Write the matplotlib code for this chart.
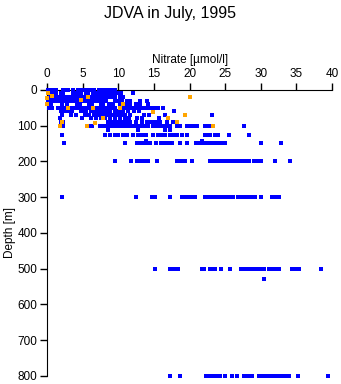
import matplotlib
matplotlib.use("Agg")
import matplotlib.pyplot as plt

plt.rcParams['font.family'] = ['Liberation Sans', 'DejaVu Sans']

# nitrate [umol/l] by sampling depth [m]
no3_0m = [0.1, 0.3, 0.5, 0.7, 0.9, 1.1, 1.3, 2.3, 2.6, 2.9, 3.7, 4.3, 4.6, 4.9,
          5.4, 5.7, 6.0, 6.3, 6.6, 7.3, 7.6, 7.9, 8.3, 8.6, 8.9, 9.2, 9.5]
no3_10m = [0.1, 0.4, 0.7, 1.0, 1.3, 1.9, 2.2, 3.6, 3.9, 4.5, 4.8, 5.4, 5.8, 6.4,
           6.7, 7.0, 7.3, 7.6, 7.9, 8.2, 8.5, 8.8, 9.1, 9.4, 9.7, 10.1, 10.4, 12.0]
no3_20m = [0.4, 0.7, 1.0, 1.3, 1.6, 1.9, 2.2, 2.6, 3.0, 3.4, 3.8, 4.1, 4.4, 4.8,
           5.2, 5.5, 6.2, 6.5, 6.9, 7.2, 7.6, 8.0, 8.3, 8.6, 9.0, 9.3, 9.6, 10.3, 10.6]
no3_30m = [0.2, 0.5, 0.8, 1.1, 1.4, 1.7, 2.0, 2.3, 2.6, 2.9, 3.2, 3.5, 3.8, 4.1,
           4.4, 4.7, 5.0, 5.3, 5.6, 5.9, 6.2, 6.5, 6.8, 7.1, 7.4, 7.7, 8.0, 8.3,
           9.6, 9.9, 10.2, 10.5, 11.2, 11.6, 13.1, 14.0]
no3_40m = [0.1, 0.6, 2.1, 2.8, 4.2, 4.6, 5.9, 6.3, 7.5, 7.9, 8.7, 9.3, 10.2,
           11.1, 11.6, 12.5, 13.1, 14.2]
no3_50m = [0.3, 0.7, 1.5, 1.9, 2.3, 2.7, 3.3, 3.7, 4.1, 4.5, 4.9, 5.3, 5.7, 6.1,
           6.8, 7.2, 7.6, 8.0, 8.4, 8.8, 9.2, 9.6, 10.8, 11.2, 11.6, 12.0, 12.5,
           13.0, 13.4, 13.8, 14.3, 14.7, 15.1, 15.5, 16.2]
no3_60m = [2.0, 2.3, 2.7, 3.1, 3.5, 4.7, 5.0, 5.4, 6.1, 6.4, 6.8, 7.2, 7.5, 7.9,
           8.4, 8.8, 9.5, 10.1, 10.6, 11.4, 12.2, 12.9, 14.8, 17.8]
no3_70m = [2.1, 3.4, 4.1, 5.3, 5.9, 6.6, 7.0, 7.4, 7.8, 8.3, 8.7, 9.2, 9.8, 10.4,
           11.0, 11.7, 13.6, 14.3, 16.5, 23.1]
no3_80m = [1.8, 4.9, 6.2, 6.9, 7.6, 8.1, 8.9, 9.6, 10.2, 10.9, 11.5, 12.6, 13.3,
           15.7, 17.0]
no3_90m = [2.0, 2.3, 8.6, 9.0, 9.4, 10.0, 10.4, 10.8, 11.2, 11.6, 12.5, 13.3,
           14.0, 14.4, 14.7, 15.1, 15.5, 15.9, 16.8, 17.7]
no3_100m = [2.0, 2.3, 6.0, 6.3, 7.4, 7.7, 8.1, 8.6, 9.1, 9.5, 9.9, 10.2, 10.7,
            11.1, 11.5, 11.9, 12.1, 12.6, 13.1, 13.3, 13.8, 14.2, 14.9, 15.3,
            15.7, 16.1, 16.6, 17.0, 17.3, 18.2, 18.7, 19.6, 20.0, 20.5, 21.0,
            22.2, 22.6, 22.9, 27.7]
no3_113m = [8.6, 12.8, 16.6, 17.3]
no3_125m = [2.15, 8.1, 8.8, 9.5, 10.0, 10.6, 11.2, 12.1, 12.8, 13.3, 13.9, 14.8,
            15.6, 16.1, 16.6, 17.3, 17.8, 18.2, 18.9, 19.6, 22.2, 22.6, 22.9,
            23.6, 24.0, 25.5, 28.4]
no3_144m = [13.9, 21.8]
no3_150m = [2.4, 10.9, 12.6, 13.0, 13.5, 14.0, 14.5, 15.3, 16.0, 16.5, 17.0,
            17.5, 18.6, 19.6, 20.9, 21.3, 21.8, 22.3, 22.6, 23.0, 23.5, 24.0,
            24.5, 25.0, 30.0, 32.8]
no3_200m = [9.5, 11.8, 12.6, 13.0, 13.4, 13.8, 14.2, 15.4, 18.3, 18.7, 19.1,
            19.4, 20.4, 22.8, 23.2, 23.6, 24.0, 24.4, 24.8, 25.2, 25.6, 26.0,
            26.4, 26.7, 27.1, 27.5, 27.9, 28.3, 29.1, 29.5, 30.0, 32.0, 34.1]
no3_300m = [2.15, 12.5, 14.7, 15.0, 15.2, 17.2, 18.9, 19.2, 19.5, 19.8, 20.1,
            20.4, 20.7, 22.2, 22.6, 23.0, 23.3, 23.6, 24.1, 24.5, 24.9, 25.2,
            25.5, 25.8, 26.1, 26.8, 27.2, 27.8, 28.2, 28.6, 29.0, 29.2, 30.0,
            31.5, 31.8, 32.1, 32.5]
no3_500m = [15.2, 17.2, 17.8, 18.1, 18.4, 21.8, 22.0, 22.9, 23.2, 23.6, 24.4,
            25.6, 27.2, 27.5, 27.8, 28.1, 28.4, 28.7, 29.0, 29.3, 29.6, 29.9,
            30.2, 30.4, 31.1, 31.5, 32.0, 32.5, 34.3, 34.6, 35.0, 35.3, 38.4]
no3_530m = [30.5]
no3_800m = [17.3, 18.6, 22.3, 22.7, 23.1, 23.5, 23.9, 24.3, 24.9, 25.9, 26.6,
            27.6, 28.0, 28.4, 28.7, 29.7, 30.0, 30.3, 30.6, 31.1, 31.7, 32.1,
            32.6, 33.0, 33.4, 33.9, 35.2, 39.4]

# second group of samples
extra_no3 = [0.2, 0.65, 0.05, 0.05, 5.8, 4.7, 3.0, 6.4, 10.2, 10.7, 7.9, 6.7,
             5.6, 2.1, 1.8, 20.0, 14.8, 17.0, 19.4, 18.2, 23.3]
extra_depth = [10, 16, 24, 40, 21, 28, 50, 50, 50, 40, 80, 94, 100, 89, 100,
               20, 61, 80, 70, 89, 100]

levels = [(0, no3_0m), (10, no3_10m), (20, no3_20m), (30, no3_30m),
          (40, no3_40m), (50, no3_50m), (60, no3_60m), (70, no3_70m),
          (80, no3_80m), (90, no3_90m), (100, no3_100m), (113, no3_113m),
          (125, no3_125m), (144, no3_144m), (150, no3_150m), (200, no3_200m),
          (300, no3_300m), (500, no3_500m), (530, no3_530m), (800, no3_800m)]

nitrate = []
depth = []
for d, vals in levels:
    nitrate += vals
    depth += [d] * len(vals)

fig = plt.figure(figsize=(3.41, 3.84), dpi=100)
ax = fig.add_axes([0.138, 0.021, 0.836, 0.745])

ax.plot(nitrate, depth, 's', color='#0000ff', markersize=2.2,
        markeredgewidth=0, clip_on=False, zorder=3)
ax.plot(extra_no3, extra_depth, 's', color='#ffa500', markersize=2.6,
        markeredgewidth=0, clip_on=False, zorder=4)

ax.set_xlim(0, 40)
ax.set_ylim(800, 0)
ax.set_xticks(range(0, 41, 5))
ax.set_yticks(range(0, 801, 100))
ax.xaxis.tick_top()
ax.xaxis.set_label_position('top')
ax.spines['right'].set_visible(False)
ax.spines['bottom'].set_visible(False)
ax.tick_params(axis='both', direction='out', length=5, width=1,
               labelsize=8.5, pad=2)
ax.set_xlabel('Nitrate [\u00b5mol/l]', fontsize=8.5, labelpad=4)
ax.set_ylabel('Depth [m]', fontsize=8.5)
# put the depth label a few pixels in from the left edge
ax.yaxis.set_label_coords(-0.11, 0.5)

fig.suptitle('JDVA in July, 1995', y=0.985, fontsize=11.5)

fig.savefig('out.png', dpi=100)
